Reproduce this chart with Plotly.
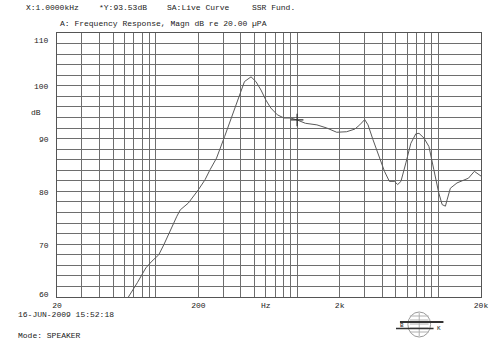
import plotly.graph_objects as go

# ---------------- data ----------------
freq_hz = [55, 64, 74, 85, 94, 105, 114, 127, 141, 149, 170, 200, 223, 242, 269, 307,
           351, 391, 424, 472, 511, 555, 601, 651, 725, 808, 899, 1000, 1084, 1144,
           1380, 1623, 1906, 2239, 2559, 2774, 3007, 3175, 3441, 3829, 4150, 4496,
           4873, 5147, 5428, 5882, 6375, 6910, 7287, 7899, 8563, 9278, 10054, 10620,
           11200, 11510, 12140, 13520, 15040, 16300, 17950, 19680, 20000]
magn_db = [57.8, 60.0, 62.7, 65.5, 66.8, 68.0, 69.9, 72.8, 75.3, 76.5, 77.8, 80.3, 82.2,
           84.1, 86.3, 90.4, 94.8, 98.0, 100.8, 101.7, 100.8, 99.2, 97.3, 95.8, 94.5,
           93.9, 93.9, 93.53, 93.2, 92.9, 92.6, 92.0, 91.2, 91.3, 91.8, 92.6, 93.6,
           92.6, 89.8, 86.3, 83.8, 81.9, 81.9, 81.3, 81.9, 85.4, 89.1, 90.9, 91.0,
           90.1, 88.5, 84.1, 79.7, 77.5, 77.2, 78.4, 80.6, 81.6, 82.2, 82.5, 83.8,
           83.0, 82.9]

cursor_freq = [1000]
cursor_db = [93.53]

x_grid = [20, 30, 40, 50, 60, 70, 80, 90,
          100, 200, 300, 400, 500, 600, 700, 800, 900,
          1000, 2000, 3000, 4000, 5000, 6000, 7000, 8000, 9000,
          10000, 20000]
x_labels = {20: "20", 200: "200", 600: "Hz", 2000: "2k", 20000: "20k"}
y_grid = list(range(60, 111, 2))
y_labels = [110, 100, 90, 80, 70, 60]

header1 = ["X:1.0000kHz", "*Y:93.53dB", "SA:Live Curve", "SSR Fund."]
header2 = "A: Frequency Response, Magn dB re 20.00 \u00b5PA"
footer_date = "16-JUN-2009 15:52:18"
footer_mode = "Mode: SPEAKER"

# ---------------- layout helpers ----------------
W, H = 500, 345
L, R, T, B = 57, 486, 33, 297
def px(X):
    return (X - L) / (R - L)
def py(Y):
    return (B - Y) / (B - T)

MONO = "Liberation Mono"
TXT = "#222222"
GRID = "#6e6e6e"

fig = go.Figure()
fig.add_trace(go.Scatter(x=freq_hz, y=magn_db, mode="lines",
                         line=dict(color="#5a5a5a", width=1), hoverinfo="skip"))
fig.add_trace(go.Scatter(x=cursor_freq, y=cursor_db, mode="markers",
                         marker=dict(symbol="cross-thin", size=9,
                                     line=dict(color="#303030", width=1.2)),
                         hoverinfo="skip"))

fig.update_xaxes(type="log", range=[1.30103, 4.30103],
                 tickmode="array", tickvals=x_grid,
                 ticktext=[x_labels.get(v, "") for v in x_grid],
                 tickfont=dict(family=MONO, size=8, color=TXT),
                 showgrid=True, gridcolor=GRID, gridwidth=1,
                 showline=True, linecolor="#555", linewidth=1, mirror=True,
                 ticks="", zeroline=False)
fig.update_yaxes(range=[60, 110], tickmode="array", tickvals=y_grid,
                 showticklabels=False,
                 showgrid=True, gridcolor=GRID, gridwidth=1,
                 showline=True, linecolor="#555", linewidth=1, mirror=True,
                 ticks="", zeroline=False)

ann = []
yshift = {110: -7, 60: 3}
for v in y_labels:
    ann.append(dict(x=px(51), y=v, xref="paper", yref="y", text=str(v),
                    xanchor="right", yanchor="middle", showarrow=False,
                    yshift=yshift.get(v, -1),
                    font=dict(family=MONO, size=8, color=TXT)))
ann.append(dict(x=px(29), y=py(113), xref="paper", yref="paper", text="dB",
                xanchor="left", yanchor="middle", showarrow=False,
                font=dict(family=MONO, size=8, color=TXT)))
for X, t in zip([24, 97, 166, 252], header1):
    ann.append(dict(x=px(X), y=py(7), xref="paper", yref="paper", text=t,
                    xanchor="left", yanchor="middle", showarrow=False,
                    font=dict(family=MONO, size=8, color=TXT)))
ann.append(dict(x=px(58), y=py(24), xref="paper", yref="paper", text=header2,
                xanchor="left", yanchor="middle", showarrow=False,
                font=dict(family=MONO, size=8, color=TXT)))
ann.append(dict(x=px(16), y=py(314), xref="paper", yref="paper", text=footer_date,
                xanchor="left", yanchor="middle", showarrow=False,
                font=dict(family=MONO, size=8, color=TXT)))
ann.append(dict(x=px(16), y=py(335), xref="paper", yref="paper", text=footer_mode,
                xanchor="left", yanchor="middle", showarrow=False,
                font=dict(family=MONO, size=8, color=TXT)))
ann.append(dict(x=px(406), y=py(325), xref="paper", yref="paper", text="B",
                xanchor="center", yanchor="middle", showarrow=False,
                font=dict(family=MONO, size=6, color=TXT)))
ann.append(dict(x=px(443), y=py(328), xref="paper", yref="paper", text="K",
                xanchor="center", yanchor="middle", showarrow=False,
                font=dict(family=MONO, size=6, color=TXT)))

shapes = []
# logo globe
shapes.append(dict(type="circle", xref="paper", yref="paper",
                   x0=px(412), x1=px(435), y0=py(337), y1=py(312),
                   line=dict(color="#9a9a9a", width=1)))
for Y in [316, 320, 324, 328, 332]:
    shapes.append(dict(type="line", xref="paper", yref="paper",
                       x0=px(414), x1=px(433), y0=py(Y), y1=py(Y),
                       line=dict(color="#b0b0b0", width=1)))
shapes.append(dict(type="line", xref="paper", yref="paper",
                   x0=px(423.5), x1=px(423.5), y0=py(313), y1=py(336),
                   line=dict(color="#b0b0b0", width=1)))
shapes.append(dict(type="line", xref="paper", yref="paper",
                   x0=px(404), x1=px(448), y0=py(322), y1=py(322),
                   line=dict(color="#333", width=2)))
shapes.append(dict(type="line", xref="paper", yref="paper",
                   x0=px(400), x1=px(438), y0=py(328.5), y1=py(328.5),
                   line=dict(color="#333", width=1.5)))

fig.update_layout(width=W, height=H,
                  margin=dict(l=L, r=W - R, t=T, b=H - B, pad=0),
                  paper_bgcolor="white", plot_bgcolor="white",
                  showlegend=False, annotations=ann, shapes=shapes)

fig.write_html("out.html")
